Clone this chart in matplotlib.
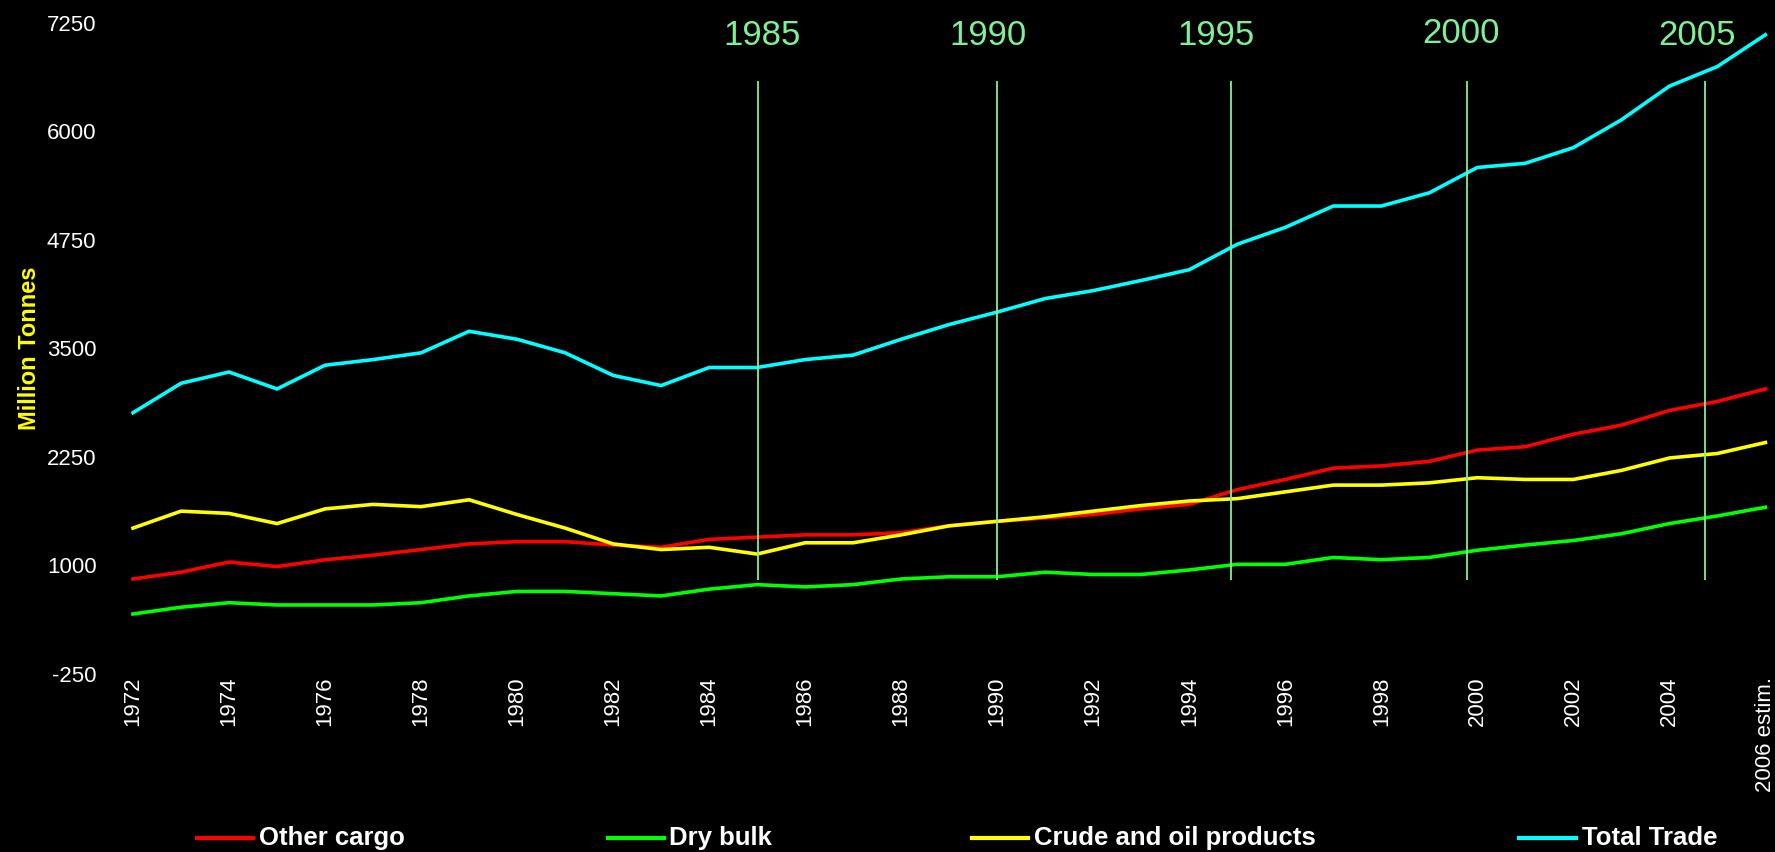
import matplotlib.pyplot as plt
from matplotlib.lines import Line2D

plt.rcParams['font.family'] = ['Liberation Sans', 'DejaVu Sans']
plt.rcParams['axes.unicode_minus'] = False

# Seaborne trade, million tonnes
years = [str(y) for y in range(1972, 2006)] + ['2006 estim.']

other_cargo = [844, 922, 1039, 987, 1065, 1118, 1183, 1248, 1274, 1274,
               1235, 1209, 1300, 1326, 1352, 1352, 1378, 1456, 1508, 1547,
               1586, 1651, 1703, 1873, 1990, 2120, 2146, 2198, 2328, 2367,
               2511, 2615, 2784, 2888, 3032]
dry_bulk = [441, 519, 571, 545, 545, 545, 571, 649, 701, 701,
            675, 649, 727, 779, 753, 779, 844, 870, 870, 922,
            896, 896, 948, 1013, 1013, 1092, 1066, 1092, 1175, 1235,
            1287, 1365, 1482, 1570, 1670]
crude_oil = [1430, 1625, 1599, 1482, 1651, 1703, 1677, 1756, 1586, 1430,
             1248, 1183, 1209, 1131, 1261, 1261, 1352, 1456, 1508, 1560,
             1625, 1690, 1742, 1769, 1847, 1925, 1925, 1951, 2010, 1990,
             1990, 2094, 2237, 2289, 2415]
total_trade = [2758, 3097, 3227, 3032, 3305, 3370, 3448, 3696, 3604, 3448,
               3188, 3071, 3279, 3279, 3370, 3422, 3604, 3774, 3917, 4073,
               4164, 4281, 4405, 4698, 4892, 5138, 5138, 5290, 5582, 5630,
               5810, 6130, 6518, 6744, 7110]

marker_years = ['1985', '1990', '1995', '2000', '2005']

series = [
    ('Other cargo', other_cargo, '#ff0000'),
    ('Dry bulk', dry_bulk, '#00ff00'),
    ('Crude and oil products', crude_oil, '#ffff00'),
    ('Total Trade', total_trade, '#00ffff'),
]

fig = plt.figure(figsize=(17.75, 8.52), dpi=100, facecolor='black')
ax = fig.add_axes([0.0614, 0.2089, 0.9386, 0.7646], facecolor='black')

x = list(range(len(years)))
for name, vals, col in series:
    ax.plot(x, vals, color=col, lw=2.6, solid_joinstyle='miter')

# five-year markers (hand placed, they drift a little off the ticks)
mark_col = '#80f097'
line_shift = [0.02, 0.0, -0.14, -0.21, -0.26]
text_shift = [0.1, -0.19, -0.45, -0.33, -0.42]
text_y = [7100, 7100, 7100, 7130, 7100]
for yr, dl, dt, ty in zip(marker_years, line_shift, text_shift, text_y):
    i = years.index(yr)
    ax.vlines(i + dl, 830, 6580, color=mark_col, lw=1.3)
    ax.text(i + dt, ty, yr, color=mark_col, fontsize=25, ha='center', va='center')

ax.set_xlim(-0.5, 34.2)
ax.set_ylim(-250, 7250)
ax.set_yticks(range(-250, 7251, 1250))
ax.set_xticks(x[::2])
ax.set_xticklabels(years[::2], rotation=90, va='top', ha='center')
ax.tick_params(colors='white', labelsize=16, length=0)
ax.tick_params(axis='y', pad=9)
ax.tick_params(axis='x', pad=2)
for s in ax.spines.values():
    s.set_visible(False)

ax.set_ylabel('Million Tonnes', color='#ffff00', fontsize=17, fontweight='bold')
ax.yaxis.set_label_coords(-0.041, 0.5)

# legend along the bottom
leg_pos = [(197, 253, 259), (608, 664, 669), (972, 1028, 1034), (1519, 1576, 1582)]
W, H = 1775.0, 852.0
ly = 14 / H
for (name, vals, col), (x0, x1, xt) in zip(series, leg_pos):
    fig.add_artist(Line2D([x0 / W, x1 / W], [ly, ly], transform=fig.transFigure,
                          color=col, lw=3))
    fig.text(xt / W, ly, name, color='white', fontsize=18.5, fontweight='bold',
             ha='left', va='center')

fig.savefig('out.png', dpi=100, facecolor='black')
